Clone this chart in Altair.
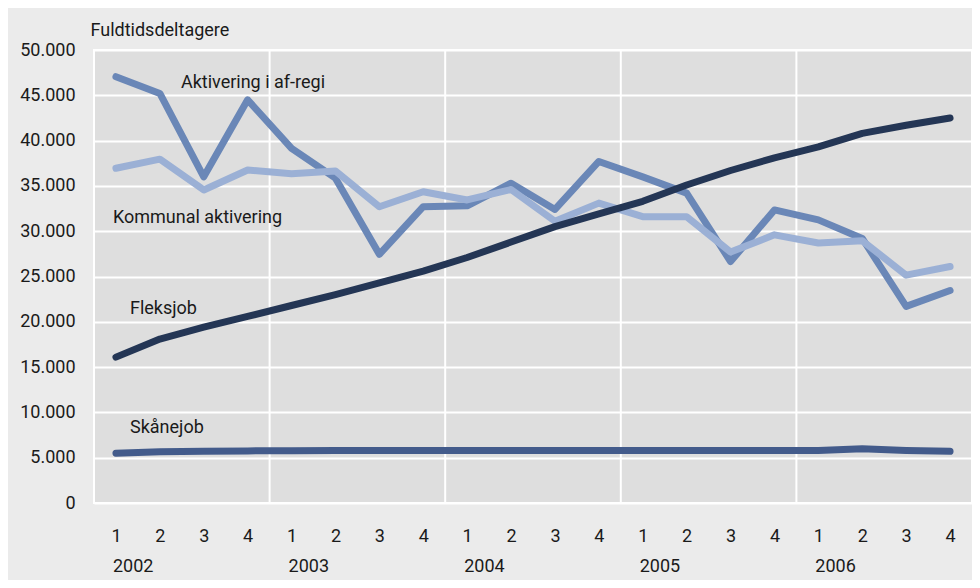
import altair as alt
import pandas as pd

quarters = list(range(20))
years = ["2002", "2003", "2004", "2005", "2006"]
year_start_idx = [0, 4, 8, 12, 16]

series_names = ["Aktivering i af-regi", "Kommunal aktivering", "Fleksjob", "Skånejob"]
series_colors = ["#6a87b7", "#9bb0d5", "#243655", "#435b8b"]

aktivering = [47050, 45200, 36000, 44500, 39150, 35850, 27450, 32700, 32800, 35300,
              32400, 37700, 36000, 34200, 26650, 32350, 31250, 29200, 21700, 23450]
kommunal = [36950, 37950, 34550, 36750, 36350, 36650, 32700, 34350, 33450, 34600,
            31100, 33100, 31600, 31600, 27700, 29600, 28700, 28950, 25150, 26100]
fleksjob = [16100, 18100, 19400, 20600, 21800, 23000, 24300, 25600, 27100, 28800,
            30500, 31900, 33300, 35100, 36700, 38100, 39300, 40800, 41700, 42500]
skaanejob = [5500, 5650, 5700, 5750, 5780, 5800, 5800, 5800, 5800, 5800,
             5800, 5800, 5800, 5800, 5800, 5800, 5800, 6000, 5800, 5700]

label_text = ["Aktivering i af-regi", "Kommunal aktivering", "Fleksjob", "Skånejob"]
label_x = [1.48, -0.07, 0.32, 0.32]
label_y = [46360, 31460, 21400, 8300]

year_boundaries = [3.5, 7.5, 11.5, 15.5]

FONT = "Roboto"
TXT = "#1a1a1a"

rows = []
for name, vals in zip(series_names, [aktivering, kommunal, fleksjob, skaanejob]):
    for q, v in zip(quarters, vals):
        rows.append({"idx": q, "value": v, "series": name})
df = pd.DataFrame(rows)

xscale = alt.Scale(domain=[-0.5, 19.5], nice=False, zero=False)
yscale = alt.Scale(domain=[0, 50000], nice=False)

x_axis = alt.Axis(
    values=quarters,
    labelExpr="'' + (datum.value % 4 + 1)",
    domain=False, ticks=False, grid=False,
    labelPadding=24, labelFontSize=18, labelFont=FONT, labelColor=TXT,
    title=None,
)
y_axis = alt.Axis(
    values=list(range(0, 50001, 5000)),
    labelExpr="replace(format(datum.value, ','), ',', '.')",
    domain=False, ticks=False, grid=True, gridColor="white", gridWidth=2,
    labelPadding=19, labelFontSize=18, labelFont=FONT, labelColor=TXT,
    title="Fuldtidsdeltagere", titleAngle=0, titleAlign="left",
    titleBaseline="middle", titleX=-4, titleY=-20, titleFontSize=18,
    titleFont=FONT, titleFontWeight="normal", titleColor=TXT,
)

rules = alt.Chart(pd.DataFrame({"pos": year_boundaries})).mark_rule(
    color="white", strokeWidth=2
).encode(x=alt.X("pos:Q", scale=xscale, axis=x_axis))

layers = [rules]
for name, col in zip(series_names, series_colors):
    layers.append(
        alt.Chart(df[df["series"] == name]).mark_line(
            color=col, strokeWidth=7, strokeCap="round", strokeJoin="round"
        ).encode(
            x=alt.X("idx:Q", scale=xscale, axis=x_axis),
            y=alt.Y("value:Q", scale=yscale, axis=y_axis),
        )
    )

labels = alt.Chart(pd.DataFrame({"t": label_text, "x": label_x, "y": label_y})).mark_text(
    align="left", baseline="middle", fontSize=18, font=FONT, color=TXT
).encode(
    x=alt.X("x:Q", scale=xscale),
    y=alt.Y("y:Q", scale=yscale),
    text="t:N",
)

year_labels = alt.Chart(pd.DataFrame({"year": years, "idx": year_start_idx})).mark_text(
    align="left", baseline="middle", fontSize=18, font=FONT, color=TXT, dx=-3
).encode(
    x=alt.X("idx:Q", scale=xscale),
    y=alt.value(517),
    text="year:N",
)

layers += [labels, year_labels]

chart = alt.layer(*layers).properties(
    width=878, height=453,
    padding={"left": 86, "top": 42, "right": 0, "bottom": 77},
    autosize=alt.AutoSizeParams(type="none"),
    background="#ebebeb",
).configure_view(
    fill="#dedede", stroke="white", strokeWidth=2
)

chart.save("out.html", embed_options={"renderer": "svg", "actions": False})
